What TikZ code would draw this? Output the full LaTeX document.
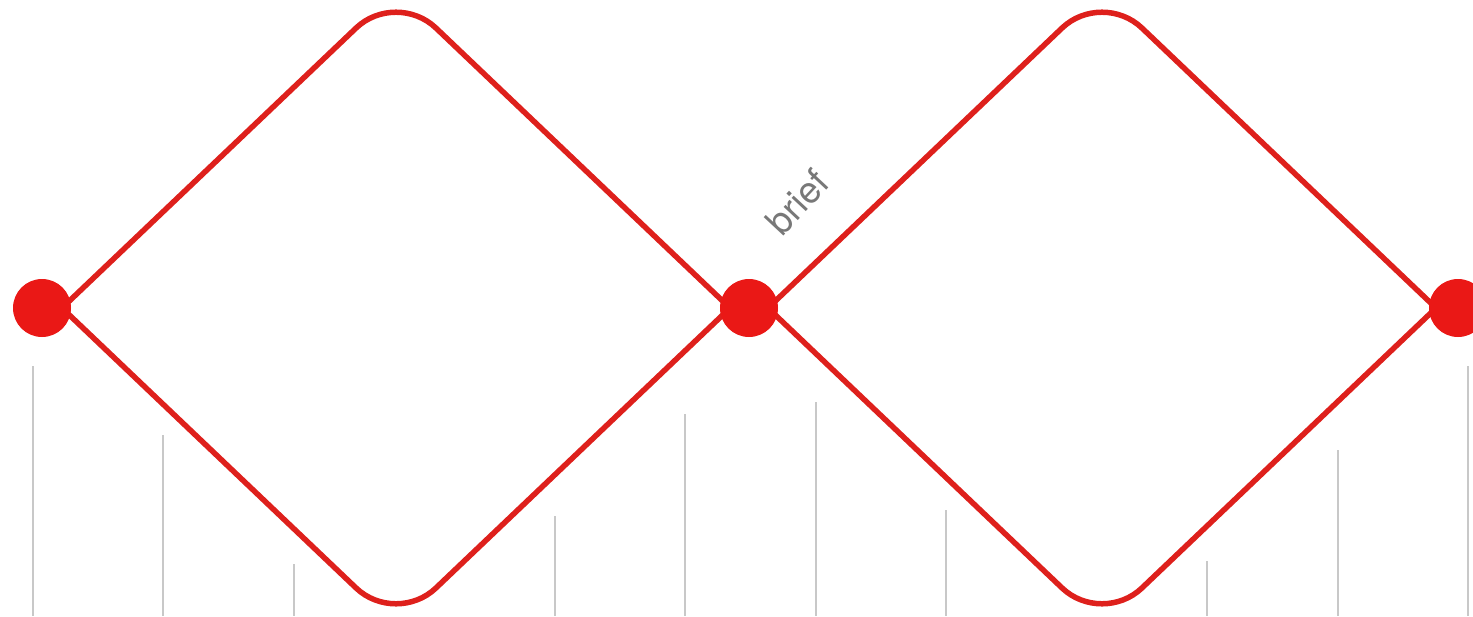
\documentclass[tikz,border=0pt]{standalone}
\usepackage{fontspec}
\setmainfont{TeX Gyre Heros}
\definecolor{linered}{RGB}{222,32,28}
\definecolor{dotred}{RGB}{234,24,22}
\definecolor{tickgray}{RGB}{200,200,200}
\definecolor{textgray}{RGB}{120,120,120}
\begin{document}
\begin{tikzpicture}[x=1pt,y=-1pt,
  edge/.style={draw=linered,line width=5.5pt,rounded corners=55pt,line join=round},
  dotnode/.style={circle,fill=dotred,inner sep=0pt,minimum size=58pt},
  tick/.style={draw=tickgray,line width=1.5pt},
  lbl/.style={text=textgray,font=\fontsize{37}{40}\selectfont,rotate=47,inner sep=0pt}]
\useasboundingbox (0,0) rectangle (1473,616);
% gray vertical ticks
\foreach \x/\y [count=\i] in {33/366,163/435,294/564,555/516,685/414,816/402,946/510,1207/561,1338/450,1468/366}{
  \coordinate (t\i) at (\x,\y);
  \coordinate (b\i) at (\x,616);
  \draw[tick] (t\i) -- (b\i);
}
% diamond corners
\coordinate (L1) at (62,308);
\coordinate (T1) at (396,-10);
\coordinate (R1) at (730,308);
\coordinate (B1) at (396,626);
\coordinate (L2) at (768,308);
\coordinate (T2) at (1102,-10);
\coordinate (R2) at (1436,308);
\coordinate (B2) at (1102,626);
\draw[edge] (L1) -- (T1) -- (R1);
\draw[edge] (L1) -- (B1) -- (R1);
\draw[edge] (L2) -- (T2) -- (R2);
\draw[edge] (L2) -- (B2) -- (R2);
% dots
\node[dotnode] (d1) at (42,308) {};
\node[dotnode] (d2) at (749,308) {};
\node[dotnode] (d3) at (1458,308) {};
% label
\node[lbl] (brief) at (797,202) {brief};
\end{tikzpicture}
\end{document}
